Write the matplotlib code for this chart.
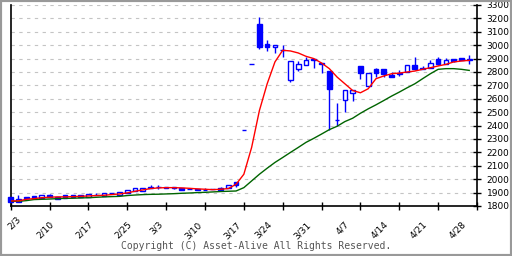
import matplotlib
matplotlib.use("Agg")
import matplotlib.pyplot as plt
from matplotlib.patches import Rectangle

# daily candles, index 0 = 2/3
opens = [1865, 1830, 1868, 1875, 1860, 1882, 1852, 1880, 1880, 1882,
         1870, 1885, 1875, 1895, 1885, 1895, 1912, 1912, 1945, 1945,
         1943, 1940, 1932, 1928, 1928, 1922, 1925, 1932, 1932, 1978,
         2365, 2862, 3157, 3012, 2988, 2965, 2737, 2822, 2855, 2900,
         2857, 2805, 2445, 2592, 2645, 2842, 2695, 2820, 2820, 2780,
         2787, 2800, 2855, 2820, 2830, 2895, 2857, 2900, 2903, 2898]
closes = [1830, 1855, 1860, 1862, 1882, 1865, 1870, 1862, 1865, 1870,
          1887, 1880, 1895, 1895, 1905, 1918, 1937, 1937, 1935, 1940,
          1935, 1937, 1918, 1928, 1918, 1922, 1925, 1918, 1957, 1958,
          2365, 2862, 2983, 2988, 3005, 2962, 2880, 2862, 2892, 2890,
          2870, 2675, 2442, 2662, 2662, 2792, 2795, 2795, 2785, 2765,
          2790, 2855, 2825, 2832, 2870, 2862, 2887, 2883, 2890, 2890]
highs = [1865, 1880, 1868, 1875, 1882, 1890, 1870, 1880, 1880, 1885,
         1887, 1895, 1895, 1895, 1905, 1918, 1937, 1937, 1955, 1955,
         1943, 1940, 1932, 1928, 1928, 1932, 1925, 1945, 1957, 1978,
         2365, 2862, 3207, 3042, 3005, 3000, 2880, 2880, 2912, 2900,
         2870, 2805, 2570, 2662, 2662, 2842, 2795, 2830, 2820, 2800,
         2817, 2855, 2912, 2845, 2887, 2912, 2907, 2900, 2905, 2930]
lows = [1830, 1830, 1860, 1862, 1860, 1865, 1852, 1862, 1865, 1870,
        1870, 1880, 1875, 1895, 1885, 1895, 1912, 1912, 1935, 1930,
        1935, 1925, 1918, 1928, 1918, 1922, 1925, 1918, 1932, 1945,
        2365, 2862, 2972, 2957, 2942, 2912, 2725, 2807, 2855, 2832,
        2792, 2367, 2400, 2500, 2587, 2750, 2695, 2762, 2762, 2762,
        2770, 2800, 2812, 2820, 2830, 2850, 2857, 2875, 2887, 2862]

ma_short = [1838, 1838, 1850, 1855, 1862, 1865, 1868, 1868, 1870, 1872,
            1875, 1878, 1880, 1885, 1890, 1898, 1910, 1920, 1930, 1935,
            1937, 1937, 1935, 1932, 1928, 1925, 1922, 1925, 1930, 1962,
            2037, 2237, 2512, 2712, 2875, 2962, 2957, 2942, 2917, 2900,
            2867, 2825, 2762, 2712, 2662, 2645, 2675, 2750, 2770, 2787,
            2792, 2800, 2807, 2820, 2832, 2845, 2857, 2875, 2882, 2887]
ma_long = [1835, 1835, 1840, 1848, 1850, 1852, 1855, 1857, 1858, 1860,
           1862, 1865, 1868, 1870, 1872, 1878, 1882, 1885, 1887, 1888,
           1890, 1892, 1895, 1897, 1900, 1902, 1905, 1908, 1910, 1912,
           1937, 1987, 2037, 2082, 2125, 2162, 2200, 2237, 2275, 2305,
           2337, 2370, 2395, 2430, 2455, 2492, 2525, 2555, 2587, 2620,
           2650, 2682, 2712, 2750, 2787, 2820, 2825, 2825, 2820, 2812]

date_labels = ["2/3", "2/10", "2/17", "2/25", "3/3", "3/10", "3/17",
               "3/24", "3/31", "4/7", "4/14", "4/21", "4/28"]
date_pos = [0, 5, 10, 15, 19, 24, 29, 33, 38, 43, 48, 53, 58]

blue = "#0000FF"
fig = plt.figure(figsize=(5.12, 2.56), dpi=100)
ax = fig.add_axes([10.7 / 512, 1 - 206 / 256, (477 - 10.7) / 512, 201 / 256])

x = list(range(len(opens)))
ax.vlines(x, lows, highs, color=blue, lw=1, zorder=2, clip_on=False)
for i in x:
    o, c = opens[i], closes[i]
    fc = blue if c < o else "white"
    ax.add_patch(Rectangle((i - 0.3, min(o, c)), 0.6, max(abs(c - o), 0.5),
                           facecolor=fc, edgecolor=blue, lw=1, zorder=3,
                           clip_on=False))

ax.plot(x, ma_long, color="#006400", lw=1, zorder=4)
ax.plot(x, ma_short, color="#FF0000", lw=1, zorder=4)

ax.set_xlim(0, 60)
ax.set_ylim(1800, 3300)
ax.set_yticks(range(1800, 3301, 100))
ax.grid(axis="y", color="#C4C4C4", lw=0.8, ls=(0, (3, 4)))
ax.set_axisbelow(True)

ax.spines["top"].set_visible(False)
for s in ["left", "right", "bottom"]:
    ax.spines[s].set_linewidth(1.2)
ax.yaxis.tick_right()
ax.tick_params(axis="y", direction="inout", length=6, width=1,
               labelsize=6.5, pad=4)
ax.tick_params(left=False)

# date labels on major ticks (no marks), tick marks every 5 bars on minor
ax.xaxis.remove_overlapping_locs = False
ax.set_xticks(date_pos)
ax.set_xticklabels(date_labels, rotation=45, ha="right", va="top",
                   fontsize=6.5, rotation_mode="anchor")
ax.get_xticklabels()[0].set_ha("center")
ax.tick_params(axis="x", which="major", length=0, pad=10)
ax.set_xticks(range(0, 61, 5), minor=True)
ax.tick_params(axis="x", which="minor", direction="inout", length=6, width=1)

fig.text(0.5, 1 - 246 / 256, "Copyright (C) Asset-Alive All Rights Reserved.",
         ha="center", va="center", family="DejaVu Sans Mono", fontsize=7,
         color="#555555")
fig.patches.append(Rectangle((0, 0), 1, 1, transform=fig.transFigure,
                             fill=False, edgecolor="#999999", lw=3))

fig.savefig("out.png", dpi=100)
